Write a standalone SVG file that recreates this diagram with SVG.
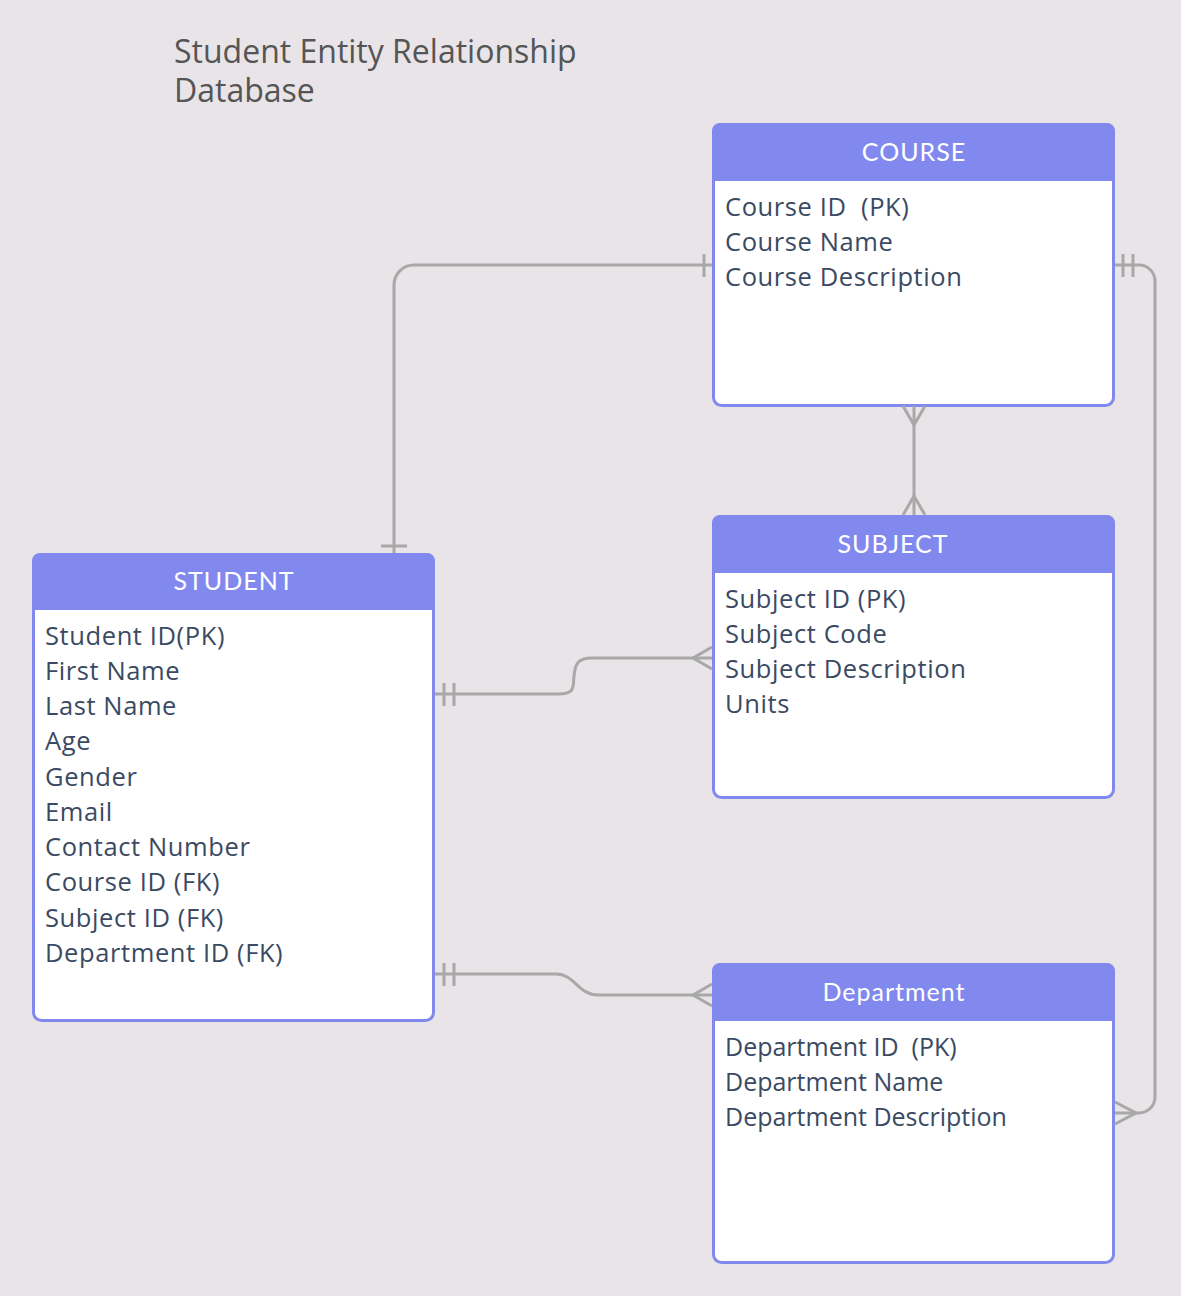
<svg xmlns="http://www.w3.org/2000/svg" width="1181" height="1296" viewBox="0 0 1181 1296">
<defs>
<style>
.bg{fill:#e8e4e8}
.box{fill:#ffffff;stroke:#8289ee;stroke-width:3}
.hdr{fill:#8289ee}
.ht{font-family:Lato,"Open Sans",sans-serif;font-size:25px;fill:#ffffff;text-anchor:middle;letter-spacing:1px}
.bt{font-family:"Open Sans",sans-serif;font-size:25.5px;fill:#3b4a63;letter-spacing:0.6px;white-space:pre}
.dt{font-size:25px;letter-spacing:0}
.title{font-family:"Open Sans",sans-serif;font-size:32px;fill:#555555}
.cn{fill:none;stroke:#a8a8a8;stroke-width:3}
</style>
</defs>
<rect class="bg" x="0" y="0" width="1181" height="1296"/>
<g id="title">
<text class="title" x="174" y="63">Student Entity Relationship</text>
<text class="title" x="174" y="102">Database</text>
</g>
<g id="course">
<rect class="box" x="713.5" y="124.5" width="400" height="281" rx="8"/>
<path class="hdr" d="M712,181 V131 a8,8 0 0 1 8,-8 H1107 a8,8 0 0 1 8,8 V181 Z"/>
<text class="ht" x="914" y="161">COURSE</text>
<text class="bt" x="725" y="216" xml:space="preserve">Course ID  (PK)</text>
<text class="bt" x="725" y="251">Course Name</text>
<text class="bt" x="725" y="286">Course Description</text>
</g>
<g id="subject">
<rect class="box" x="713.5" y="516.5" width="400" height="281" rx="8"/>
<path class="hdr" d="M712,573 V523 a8,8 0 0 1 8,-8 H1107 a8,8 0 0 1 8,8 V573 Z"/>
<text class="ht" x="893" y="553">SUBJECT</text>
<text class="bt" x="725" y="608">Subject ID (PK)</text>
<text class="bt" x="725" y="643">Subject Code</text>
<text class="bt" x="725" y="678">Subject Description</text>
<text class="bt" x="725" y="713">Units</text>
</g>
<g id="student">
<rect class="box" x="33.5" y="554.5" width="400" height="466" rx="8"/>
<path class="hdr" d="M32,610 V561 a8,8 0 0 1 8,-8 H427 a8,8 0 0 1 8,8 V610 Z"/>
<text class="ht" x="234" y="590">STUDENT</text>
<text class="bt" x="45" y="645">Student ID(PK)</text>
<text class="bt" x="45" y="680">First Name</text>
<text class="bt" x="45" y="715">Last Name</text>
<text class="bt" x="45" y="750">Age</text>
<text class="bt" x="45" y="786">Gender</text>
<text class="bt" x="45" y="821">Email</text>
<text class="bt" x="45" y="856">Contact Number</text>
<text class="bt" x="45" y="891">Course ID (FK)</text>
<text class="bt" x="45" y="927">Subject ID (FK)</text>
<text class="bt" x="45" y="962">Department ID (FK)</text>
</g>
<g id="department">
<rect class="box" x="713.5" y="964.5" width="400" height="298" rx="8"/>
<path class="hdr" d="M712,1021 V971 a8,8 0 0 1 8,-8 H1107 a8,8 0 0 1 8,8 V1021 Z"/>
<text class="ht" x="894" y="1001">Department</text>
<text class="bt dt" x="725" y="1056" xml:space="preserve">Department ID  (PK)</text>
<text class="bt dt" x="725" y="1091">Department Name</text>
<text class="bt dt" x="725" y="1126">Department Description</text>
</g>
<g id="connectors">
<path class="cn" d="M712,265 H414 a20,20 0 0 0 -20,20 V553"/>
<path class="cn" d="M704,254 V277 M381,546 H407"/>
<path class="cn" d="M1115,265 H1139 a16,16 0 0 1 16,16 V1097 a16,16 0 0 1 -16,16 H1115"/>
<path class="cn" d="M1123,254 V277 M1133,254 V277"/>
<path class="cn" d="M1115,1102 L1136,1113 L1115,1124"/>
<path class="cn" d="M914,406 V515"/>
<path class="cn" d="M903,406 L914,425 L925,406 M903,515 L914,496 L925,515"/>
<path class="cn" d="M435,694 H558 C575,694 573,688 574,676 C575,664 578,658 592,658 H712"/>
<path class="cn" d="M444,683 V706 M454,683 V706"/>
<path class="cn" d="M712,647 L693,658 L712,669"/>
<path class="cn" d="M435,974 H556 C575,974 578,995 598,995 H712"/>
<path class="cn" d="M444,963 V986 M454,963 V986"/>
<path class="cn" d="M712,984 L693,995 L712,1006"/>
</g>
</svg>
